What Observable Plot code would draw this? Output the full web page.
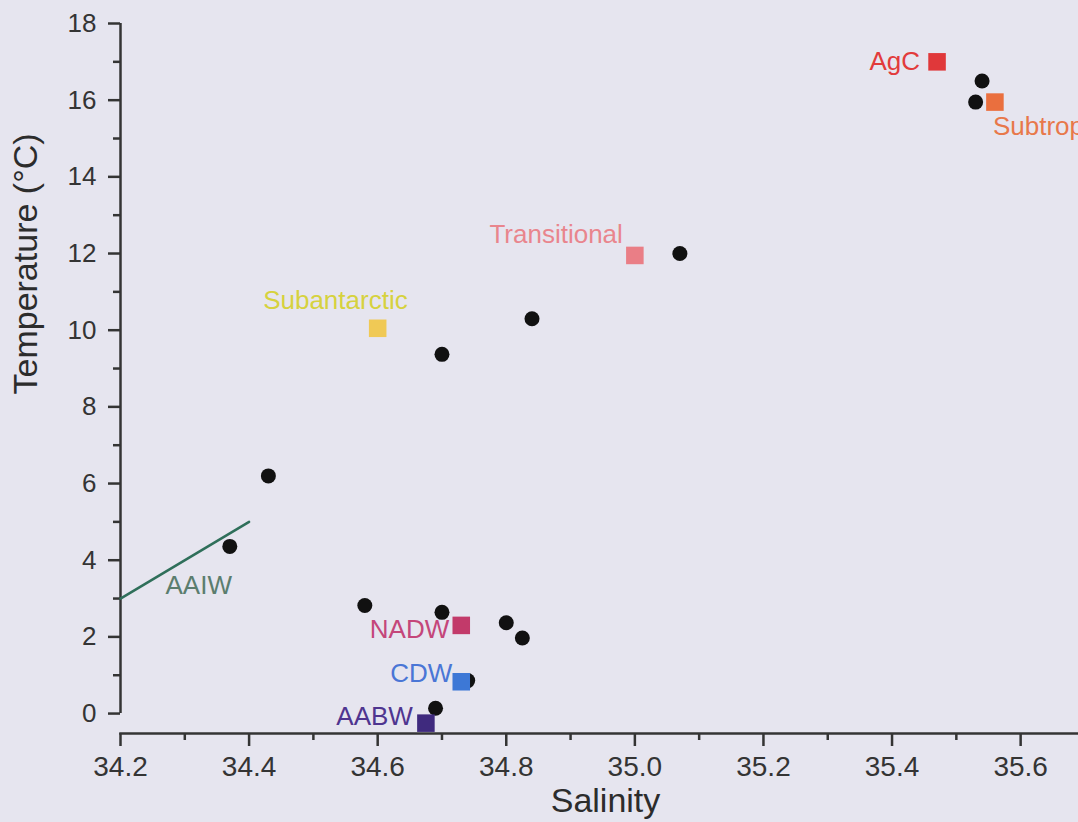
<!DOCTYPE html>
<html>
<head>
<meta charset="utf-8">
<script src="https://cdn.jsdelivr.net/npm/d3@7"></script>
<script src="https://cdn.jsdelivr.net/npm/@observablehq/plot@0.6"></script>
<style>
  html, body { margin: 0; padding: 0; width: 1078px; height: 822px; overflow: hidden; background: #e6e5ef; }
  #chart { position: absolute; left: 0; top: 0; }
</style>
</head>
<body>
<div id="chart"></div>
<script>
// ---- data ----
const sampleSalinity    = [35.54, 35.53, 35.07, 34.84, 34.70, 34.43, 34.37, 34.58, 34.70, 34.80, 34.825, 34.74, 34.69];
const sampleTemperature = [16.5, 15.95, 12.0, 10.3, 9.37, 6.2, 4.36, 2.82, 2.64, 2.37, 1.97, 0.86, 0.14];

const massNames       = ["AgC", "Subtropical", "Transitional", "Subantarctic", "NADW", "CDW", "AABW"];
const massSalinity    = [35.47, 35.56, 35.0, 34.6, 34.73, 34.73, 34.675];
const massTemperature = [17.0, 15.95, 11.95, 10.05, 2.3, 0.83, -0.25];

const aaiwName        = "AAIW";
const aaiwSalinity    = [34.2, 34.4];
const aaiwTemperature = [3.0, 5.0];

const xMajorTicks = [34.2, 34.4, 34.6, 34.8, 35.0, 35.2, 35.4, 35.6];
const xMinorTicks = [34.3, 34.5, 34.7, 34.9, 35.1, 35.3, 35.5];
const yMajorTicks = [0, 2, 4, 6, 8, 10, 12, 14, 16, 18];
const yMinorTicks = [1, 3, 5, 7, 9, 11, 13, 15, 17];

const xLabel = "Salinity";
const yLabel = "Temperature (°C)";

// ---- styles ----
const squareColors = ["#e0383a", "#ea6f3e", "#ea7e86", "#f0c955", "#c23a6a", "#3d78d6", "#3f2a7e"];
const labelColors = {
  AgC: "#e23b3b", Subtropical: "#e8784a", Transitional: "#e9858d", Subantarctic: "#d6d23e",
  NADW: "#c4467a", CDW: "#4a76d6", AABW: "#4f3590"
};
const axisColor = "#343434";

// ---- tables ----
const samples = sampleSalinity.map((s, i) => ({salinity: s, temperature: sampleTemperature[i]}));
const masses = massNames.map((n, i) => ({name: n, salinity: massSalinity[i], temperature: massTemperature[i]}));
const aaiw = aaiwSalinity.map((s, i) => ({salinity: s, temperature: aaiwTemperature[i]}));

const labelOffsets = {
  AgC: {anchor: "end", dx: -17, dy: 0},
  Subtropical: {anchor: "start", dx: -2, dy: 25},
  Transitional: {anchor: "end", dx: -12, dy: -21},
  Subantarctic: {anchor: "end", dx: 30, dy: -28},
  NADW: {anchor: "end", dx: -12, dy: 4},
  CDW: {anchor: "end", dx: -9, dy: -8},
  AABW: {anchor: "end", dx: -13, dy: -6}
};

const labelMarks = massNames.map(n => Plot.text(masses.filter(d => d.name === n), {
  x: "salinity", y: "temperature", text: "name",
  textAnchor: labelOffsets[n].anchor, dx: labelOffsets[n].dx, dy: labelOffsets[n].dy,
  fill: labelColors[n], fontSize: 26
}));

const chart = Plot.plot({
  width: 1078,
  height: 822,
  marginLeft: 120,
  marginRight: 0,
  marginTop: 23,
  marginBottom: 89,
  x: {domain: [34.2, 35.69]},
  y: {domain: [-0.52, 18]},
  color: {domain: massNames, range: squareColors},
  style: {background: "transparent", fontFamily: "'Liberation Sans', Arial, sans-serif", color: axisColor},
  marks: [
    Plot.frame({anchor: "bottom", stroke: axisColor, strokeWidth: 2.5}),
    Plot.ruleX([xMajorTicks[0]], {y1: yMajorTicks[0], y2: yMajorTicks[yMajorTicks.length - 1], stroke: axisColor, strokeWidth: 2.5}),
    Plot.axisY({ticks: yMajorTicks, anchor: "left", tickSize: 12, tickPadding: 12, fontSize: 26, strokeWidth: 2.5, color: axisColor, label: null}),
    Plot.axisY({ticks: yMinorTicks, anchor: "left", tickSize: 7, tickFormat: () => "", strokeWidth: 2.5, color: axisColor, label: null}),
    Plot.axisX({ticks: xMajorTicks, anchor: "bottom", tickSize: 13, tickPadding: 10, fontSize: 28, tickFormat: d3.format(".1f"), strokeWidth: 2.5, color: axisColor, label: null}),
    Plot.axisX({ticks: xMinorTicks, anchor: "bottom", tickSize: 7, tickFormat: () => "", strokeWidth: 2.5, color: axisColor, label: null}),
    Plot.text([xLabel], {frameAnchor: "bottom", dx: 6, dy: 78, fontSize: 34, fill: "#2c2c2c"}),
    Plot.text([yLabel], {frameAnchor: "left", rotate: -90, dx: -94, dy: 16, fontSize: 34, fill: "#2c2c2c"}),
    Plot.line(aaiw, {x: "salinity", y: "temperature", stroke: "#2f6f5a", strokeWidth: 2.5}),
    Plot.text(aaiw.slice(0, 1), {x: "salinity", y: "temperature", text: () => aaiwName, textAnchor: "start", dx: 45, dy: -13, fontSize: 26, fill: "#5b7d6e"}),
    Plot.dot(samples, {x: "salinity", y: "temperature", r: 7.5, fill: "#111111"}),
    Plot.dot(masses, {x: "salinity", y: "temperature", symbol: "square", r: 9.9, fill: "name"}),
    ...labelMarks
  ]
});
document.getElementById("chart").appendChild(chart);
</script>
</body>
</html>
